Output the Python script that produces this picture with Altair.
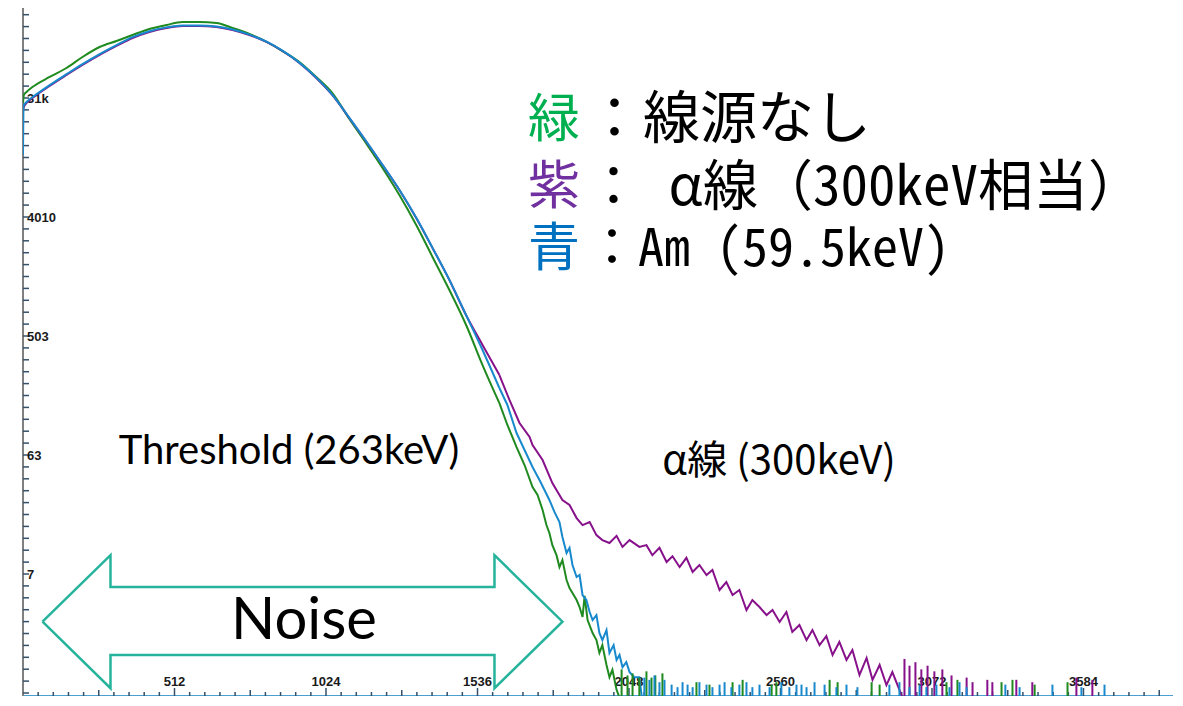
import altair as alt
import pandas as pd

# ---------------- data ----------------
x_label_values = [512, 1024, 1536, 2048, 2560, 3072, 3584]
x_label_texts = ["512", "1024", "1536", "2048", "2560", "3072", "3584"]
y_label_values = [7.92, 63.1, 503, 4010, 31960]
y_label_texts = ["7", "63", "503", "4010", "31k"]

# green: no source
green_ch = [0, 3, 12, 32, 90, 147, 201, 259, 316, 370, 427, 485, 539, 596, 654, 708, 765, 823, 877,
            934, 991, 1045, 1103, 1161, 1215, 1272, 1329, 1384, 1441, 1499, 1553,
            1610, 1637, 1668, 1695, 1722, 1739, 1756, 1769, 1779, 1789, 1803, 1813, 1823, 1837, 1847,
            1857, 1871, 1881, 1891, 1898, 1908, 1925, 1938, 1948, 1958, 1972, 1982, 1992, 2006, 2014]
green_cnt = [29300, 33700, 35500, 38700, 46100, 53900, 65300, 77800, 86400, 95900, 106500, 114200,
             120300, 120300, 118300, 108400, 97600, 84900, 72500, 59900, 46100, 34900, 22160, 14330,
             9430, 5885, 3487, 1996, 1122, 599, 303,
             156, 106.5, 72.5, 53.0, 36.1, 31.4, 24.2, 18.6, 16.2, 13.1, 11.0, 8.94, 10.1, 7.13, 6.20,
             5.68, 5.03, 4.45, 3.74, 5.4, 3.55, 2.83, 2.50, 2.0, 2.29, 1.62, 1.31, 1.49, 1.05, 0]

# purple: alpha (300 keV equivalent)
purple_ch = [0, 3, 12, 32, 90, 147, 201, 259, 316, 370, 427, 485, 539, 596, 654, 708, 765, 823, 877,
             934, 991, 1045, 1103, 1161, 1215, 1272, 1329, 1384, 1441, 1499, 1553,
             1610, 1644, 1678, 1712, 1722, 1756, 1789, 1823, 1847, 1871, 1891, 1915, 1938, 1958, 1982,
             2006, 2026, 2050, 2083, 2107, 2127, 2151, 2175, 2195, 2219, 2242, 2263, 2286, 2310, 2330,
             2354, 2377, 2398, 2421, 2445, 2465, 2489, 2513, 2533, 2557, 2580, 2600, 2624, 2648, 2668,
             2692, 2715, 2736, 2759, 2783, 2803, 2827, 2851, 2871, 2895, 2918, 2938, 2962, 2970]
purple_cnt = [25930, 27300, 29300, 31900, 39400, 47700, 56800, 67700, 79200, 91000, 101100, 108400,
              112200, 112200, 110300, 104700, 95900, 84900, 72500, 58900, 45300, 33700, 22500, 14840,
              9930, 6420, 3940, 2335, 1336, 713, 430,
              254.7, 164.8, 110.3, 86.4, 75.1, 57.8, 38.7, 28.8, 26.4, 21.0, 18.6, 19.6, 15.6, 14.3, 13.6,
              15.4, 12.7, 14.3, 12.7, 13.1, 11.0, 12.5, 9.76, 10.8, 8.94, 10.5, 8.20, 9.27, 7.78, 8.49,
              5.99, 6.89, 5.49, 5.99, 4.22, 5.03, 4.45, 3.87, 4.22, 3.43, 4.08, 2.88, 3.25, 2.50, 2.98,
              2.29, 2.68, 1.93, 2.42, 1.77, 2.10, 1.36, 1.83, 1.25, 1.62, 1.14, 1.43, 1.05, 0]

# blue: Am (59.5 keV)
blue_ch = [0, 2, 12, 32, 90, 147, 201, 259, 316, 370, 427, 485, 539, 596, 654, 708, 765, 823, 877,
           934, 991, 1045, 1103, 1161, 1215, 1272, 1329, 1384, 1441, 1499, 1553,
           1610, 1637, 1668, 1695, 1722, 1749, 1779, 1796, 1813, 1823, 1837, 1847, 1857, 1871, 1881,
           1891, 1904, 1915, 1925, 1938, 1948, 1958, 1972, 1982, 1996, 2006, 2016, 2026, 2039, 2050,
           2066, 2083, 2091]
blue_cnt = [11820, 27800, 29800, 32400, 40000, 48400, 57700, 68700, 80400, 92300, 102500, 109500,
            113000, 113000, 111000, 105500, 96500, 85400, 72900, 59200, 45600, 33900, 22600, 14900,
            9960, 6440, 3950, 2340, 1340, 713, 394,
            203, 151, 92.6, 68.9, 51.2, 39.4, 28.8, 23.4, 19.6, 15.1, 11.4, 12.5, 9.27, 7.51, 7.78,
            5.49, 5.03, 4.08, 3.55, 3.87, 2.83, 2.50, 2.98, 2.0, 2.29, 1.77, 1.93, 1.56, 1.70, 1.43,
            1.31, 1.31, 0]

# sparse low-count spikes in the tails
green_spike_ch = [2023, 2043, 2060, 2083, 2107, 2124, 2137, 2161, 2276, 2320, 2398, 2432, 2530, 2546,
                  2726, 2753, 2868, 2895, 3121, 3158, 3307, 3344, 3419, 3530]
green_spike_cnt = [1.5, 1.35, 1.4, 1.3, 1.45, 1.3, 1.35, 1.4, 1.2, 1.15, 1.2, 1.25, 1.15, 1.2,
                   1.25, 1.2, 1.2, 1.15, 1.2, 1.25, 1.2, 1.25, 1.15, 1.2]
purple_spike_ch = [2979, 2996, 3016, 3036, 3057, 3080, 3107, 3138, 3189, 3209, 3259, 3276, 3357, 3411,
                   3560, 3614]
purple_spike_cnt = [1.8, 1.6, 1.7, 1.5, 1.6, 1.45, 1.5, 1.35, 1.3, 1.2, 1.25, 1.2, 1.25, 1.2, 1.3, 1.25]
blue_spike_ch = [2100, 2117, 2134, 2151, 2168, 2192, 2212, 2229, 2246, 2263, 2286, 2310, 2330, 2354,
                 2371, 2394, 2421, 2445, 2465, 2489, 2523, 2563, 2590, 2614, 2631, 2648, 2675, 2709,
                 2749, 2783, 2820, 2928, 2962, 2996, 3030, 3053, 3087, 3131, 3165, 3189, 3320, 3368,
                 3479, 3577, 3655]
blue_spike_cnt = [1.3, 1.25, 1.35, 1.2, 1.25, 1.15, 1.1, 1.2, 1.15, 1.1, 1.2, 1.15, 1.1, 1.15,
                  1.2, 1.1, 1.15, 1.2, 1.1, 1.15, 1.1, 1.2, 1.1, 1.15, 1.15, 1.1, 1.2, 1.15,
                  1.1, 1.15, 1.1, 1.15, 1.2, 1.1, 1.15, 1.1, 1.15, 1.1, 1.2, 1.1, 1.15, 1.1,
                  1.15, 1.1, 1.15]

# "Noise" double arrow outline (channel, counts)
arrow_ch = [65.9, 295.7, 295.7, 1593.4, 1593.4, 1823.2, 1593.4, 1593.4, 295.7, 295.7, 65.9]
arrow_cnt = [3.45, 11.0, 6.31, 6.31, 11.0, 3.45, 1.08, 1.93, 1.93, 1.08, 3.45]

legend_keys = ["緑", "紫", "青"]
legend_descs = ["：線源なし", "： α線（300keV相当）", "：Am (59.5keV)"]
threshold_text = "Threshold (263keV)"
alpha_text = "α線 (300keV)"
noise_text = "Noise"

for a, b in [(green_ch, green_cnt), (purple_ch, purple_cnt), (blue_ch, blue_cnt),
             (green_spike_ch, green_spike_cnt), (purple_spike_ch, purple_spike_cnt),
             (blue_spike_ch, blue_spike_cnt), (arrow_ch, arrow_cnt)]:
    assert len(a) == len(b), (len(a), len(b))

# ---------------- layout / style ----------------
W, H = 1150, 684
XMAX = 3886.5
YMIN, YMAX = 0.943, 143200
N_SMOOTH = 31

GREEN, PURPLE, BLUE = "#1f8a1f", "#87118a", "#1889cc"
TICK = "#34506b"

xscale = alt.Scale(domain=[0, XMAX], nice=False, zero=False)
yscale = alt.Scale(type="log", domain=[YMIN, YMAX], nice=False, clamp=True)

one = alt.Data(values=[{"a": 1}])

# ---- hand-built axes (ticks and labels run through the shared scales) ----
ratio = (y_label_values[-1] / y_label_values[0]) ** (1 / 40)
y_ticks = pd.DataFrame({"v": [y_label_values[2] * ratio ** k for k in range(-30, 28)]})
y_tick_layer = alt.Chart(y_ticks).mark_rule(color=TICK, strokeWidth=1.5).encode(
    y=alt.Y("v:Q", scale=yscale, axis=None), x=alt.value(0), x2=alt.value(6))
y_lab_layer = alt.Chart(pd.DataFrame({"v": y_label_values, "t": y_label_texts})).mark_text(
    align="left", baseline="middle", font="Liberation Sans", fontWeight="bold", fontSize=13,
    color="#1a1a1a", dy=1).encode(
    y=alt.Y("v:Q", scale=yscale, axis=None), x=alt.value(4), text="t:N")
y_domain = alt.Chart(one).mark_rule(color="#808080", strokeWidth=2).encode(
    x=alt.value(0), y=alt.value(-4), y2=alt.value(H))

step = x_label_values[0] / 10
minor = [i * step for i in range(1, 76) if i % 5 != 0]
medium = [i * step for i in range(1, 76) if i % 5 == 0 and i % 10 != 0]


def x_tick_layer(vals, size):
    return alt.Chart(pd.DataFrame({"v": vals})).mark_rule(color=TICK, strokeWidth=1.5).encode(
        x=alt.X("v:Q", scale=xscale, axis=None), y=alt.value(H), y2=alt.value(H - size))


x_lab_layer = alt.Chart(pd.DataFrame({"v": x_label_values, "t": x_label_texts})).mark_text(
    align="center", baseline="middle", font="Liberation Sans", fontWeight="bold", fontSize=13,
    color="#1a1a1a").encode(
    x=alt.X("v:Q", scale=xscale, axis=None), y=alt.value(H - 14), text="t:N")
x_domain = alt.Chart(one).mark_rule(color="#4a9fd0", strokeWidth=2).encode(
    x=alt.value(0), x2=alt.value(W), y=alt.value(H))


def series_layers(ch, cnt, color):
    df = pd.DataFrame({"ch": ch, "count": cnt})
    smooth = df.iloc[:N_SMOOTH + 1]
    noisy = df.iloc[N_SMOOTH:]
    out = []
    for part, interp in [(smooth, "monotone"), (noisy, "linear")]:
        out.append(alt.Chart(part).transform_calculate(c="max(datum.count, 0.5)").mark_line(
            color=color, strokeWidth=2, interpolate=interp, clip=True, strokeJoin="miter"
        ).encode(
            x=alt.X("ch:Q", scale=xscale, axis=None),
            y=alt.Y("c:Q", scale=yscale, axis=None),
        ))
    return out


def spike_layer(ch, cnt, color):
    df = pd.DataFrame({"ch": ch, "count": cnt})
    return alt.Chart(df).transform_calculate(base=str(YMIN)).mark_rule(
        color=color, strokeWidth=2
    ).encode(
        x=alt.X("ch:Q", scale=xscale, axis=None),
        y=alt.Y("count:Q", scale=yscale, axis=None),
        y2="base:Q",
    )


arrow_df = pd.DataFrame({"ch": arrow_ch, "count": arrow_cnt, "i": list(range(len(arrow_ch)))})
arrow = alt.Chart(arrow_df).mark_line(color="#26b39c", strokeWidth=2.5, strokeJoin="miter").encode(
    x=alt.X("ch:Q", scale=xscale, axis=None),
    y=alt.Y("count:Q", scale=yscale, axis=None),
    order="i:Q",
)


def label(text, x, y, size, font, color="#000000", align="center"):
    return alt.Chart(one).mark_text(
        text=text, font=font, fontSize=size, color=color, align=align, baseline="middle"
    ).encode(x=alt.value(x), y=alt.value(y))


key_colors = ["#00b050", "#7030a0", "#0070c0"]
key_y = [109, 176, 238]
desc_sizes = [57, 55, 52]
MONO = "Noto Sans Mono CJK JP, Noto Sans CJK JP"
texts = []
for k, d, c, yy, sz in zip(legend_keys, legend_descs, key_colors, key_y, desc_sizes):
    texts.append(label(k, 531, yy, 52, "Noto Sans CJK JP", color=c))
    texts.append(label(d, 563, yy, sz, MONO, align="left"))
texts.append(label(threshold_text, 266, 440, 40, "Lato"))
texts.append(label(alpha_text, 756, 450, 40, "Noto Sans CJK JP"))
texts.append(label(noise_text, 281, 610, 58, "Lato"))

chart = alt.layer(
    x_lab_layer,
    x_domain,
    x_tick_layer(minor, 4),
    x_tick_layer(medium, 6),
    x_tick_layer(x_label_values, 8),
    y_domain,
    y_tick_layer,
    y_lab_layer,
    *series_layers(green_ch, green_cnt, GREEN),
    *series_layers(purple_ch, purple_cnt, PURPLE),
    *series_layers(blue_ch, blue_cnt, BLUE),
    spike_layer(green_spike_ch, green_spike_cnt, GREEN),
    spike_layer(purple_spike_ch, purple_spike_cnt, PURPLE),
    spike_layer(blue_spike_ch, blue_spike_cnt, BLUE),
    arrow,
    *texts,
).properties(
    width=W, height=H, autosize="none",
    padding={"left": 15, "top": 4, "right": 0, "bottom": 0},
    background="white",
).configure_view(stroke=None)

chart.save("out.html", embed_options={"renderer": "svg", "actions": False})
